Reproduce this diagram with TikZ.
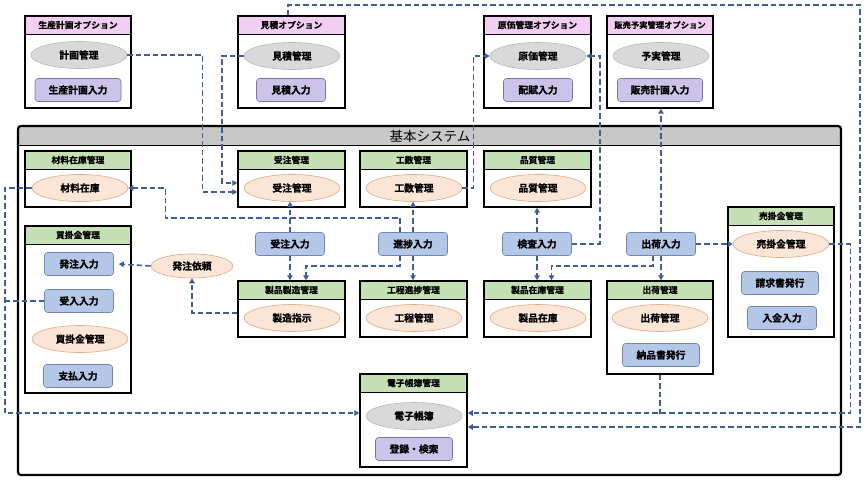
\documentclass[tikz,border=0pt]{standalone}
\usepackage{fontspec}
\setmainfont{Noto Sans CJK JP}[BoldFont={Noto Sans CJK JP Bold}, BoldFeatures={FakeBold=0.8}]
\usetikzlibrary{arrows.meta,fit,calc,shapes.geometric}
\definecolor{pinkH}{RGB}{243,206,243}
\definecolor{greenH}{RGB}{197,224,180}
\definecolor{grayH}{RGB}{200,200,200}
\definecolor{orF}{RGB}{251,229,214}
\definecolor{orB}{RGB}{226,170,130}
\definecolor{gyF}{RGB}{217,217,217}
\definecolor{gyB}{RGB}{185,185,185}
\definecolor{blF}{RGB}{180,199,231}
\definecolor{blB}{RGB}{110,135,180}
\definecolor{puF}{RGB}{204,196,232}
\definecolor{puB}{RGB}{125,115,165}
\definecolor{lnc}{RGB}{62,94,150}
\newcommand\modbox[8]{%
  \fill[#7] (#2,#3) rectangle (#4,{#3+#8});
  \draw[line width=0.7pt] (#2,{#3+#8}) -- (#4,{#3+#8});
  \node[modframe, fit={(#2,#3) (#4,#5)}] (#1) {};
  \node[hdrtext] (#1h) at ({(#2+#4)/2},{#3+#8/2}) {#6};
}
\begin{document}
\begin{tikzpicture}[x=1pt,y=-1pt,
  modframe/.style={draw=black, line width=1.5pt, inner sep=0pt},
  hdrtext/.style={font=\bfseries\fontsize{8.8}{10}\selectfont, inner sep=0pt},
  oel/.style={ellipse, draw=orB, fill=orF, line width=0.6pt, minimum width=96pt, minimum height=27pt, inner sep=0pt, font=\bfseries\fontsize{9.8}{10}\selectfont},
  gel/.style={oel, draw=gyB, fill=gyF},
  brect/.style={rectangle, rounded corners=3pt, draw=blB, fill=blF, line width=0.6pt, minimum width=69pt, minimum height=23pt, inner sep=0pt, font=\bfseries\fontsize{9.8}{10}\selectfont},
  prect/.style={brect, draw=puB, fill=puF},
  dl/.style={draw=lnc, line width=1.6pt, dash pattern=on 5.5pt off 3pt},
  arr/.style={dl, -{Triangle[length=5pt,width=5.5pt]}}
]
\useasboundingbox (0,0) rectangle (867,481);
\fill[white] (0,0) rectangle (867,481);

% option modules
\modbox{ob1}{25}{16}{131}{108}{生産計画オプション}{pinkH}{18}
\node[gel] (keikaku) at (79,55) {計画管理};
\node[prect, minimum width=86pt] (seisankeikaku) at (78,90) {生産計画入力};
\modbox{ob2}{238}{16}{345}{108}{見積オプション}{pinkH}{18}
\node[gel] (mitsumori) at (292,56) {見積管理};
\node[prect] (mitsuin) at (291,90) {見積入力};
\modbox{ob3}{484}{16}{591}{108}{原価管理オプション}{pinkH}{18}
\node[gel] (genka) at (538,56) {原価管理};
\node[prect] (haifu) at (538,90) {配賦入力};
\modbox{ob4}{607}{16}{713}{108}{{\fontsize{8.3}{9}\selectfont 販売予実管理オプション}}{pinkH}{18}
\node[gel] (yojitsu) at (661,56) {予実管理};
\node[prect, minimum width=85pt] (hanbai) at (660,90) {販売計画入力};

% basic system
\begin{scope}
  \clip[rounded corners=3pt] (18,126) rectangle (841,475);
  \fill[grayH] (18,126) rectangle (841,146);
\end{scope}
\draw[line width=1pt] (18,146) -- (841,146);
\node[draw, line width=2.2pt, rounded corners=3pt, inner sep=0pt, fit={(18,126) (841,475)}] (kihon) {};
\node[font=\fontsize{13.5}{14}\selectfont, inner sep=0pt] (kihonT) at (430,136) {基本システム};

\modbox{zaiko}{25}{151}{131}{207}{材料在庫管理}{greenH}{18}
\node[oel] (zaikoE) at (80,188) {材料在庫};
\modbox{kaikake}{25}{226}{131}{393}{買掛金管理}{greenH}{18}
\node[brect] (hacchuin) at (79,264) {発注入力};
\node[brect] (ukeirein) at (79,301) {受入入力};
\node[oel] (kaikakeE) at (80,339) {買掛金管理};
\node[brect] (shiharai) at (78,376) {支払入力};
\modbox{juchu}{238}{151}{345}{207}{受注管理}{greenH}{18}
\node[oel] (juchuE) at (292,188) {受注管理};
\modbox{kosu}{360}{151}{467}{207}{工数管理}{greenH}{18}
\node[oel] (kosuE) at (414,188) {工数管理};
\modbox{hinshitsu}{484}{151}{591}{207}{品質管理}{greenH}{18}
\node[oel] (hinshitsuE) at (538,188) {品質管理};
\modbox{seizo}{238}{281}{345}{337}{製品製造管理}{greenH}{18}
\node[oel] (seizoE) at (292,318) {製造指示};
\modbox{koutei}{360}{281}{467}{337}{工程進捗管理}{greenH}{18}
\node[oel] (kouteiE) at (414,318) {工程管理};
\modbox{seihin}{484}{281}{591}{337}{製品在庫管理}{greenH}{18}
\node[oel] (seihinE) at (538,318) {製品在庫};
\modbox{shukka}{607}{281}{713}{374}{出荷管理}{greenH}{18}
\node[oel] (shukkaE) at (660,318) {出荷管理};
\node[brect, minimum width=77pt] (nouhin) at (661,355) {納品書発行};
\modbox{urikake}{728}{207}{834}{337}{売掛金管理}{greenH}{18}
\node[oel] (urikakeE) at (781,244) {売掛金管理};
\node[brect, minimum width=77pt] (seikyu) at (780,283) {請求書発行};
\node[brect] (nyukin) at (782,318) {入金入力};
\modbox{denshi}{360}{374}{467}{467}{電子帳簿管理}{greenH}{18}
\node[gel] (denshiE) at (414,416) {電子帳簿};
\node[prect, minimum width=77pt] (touroku) at (414,449) {登録・検索};

% free nodes
\node[brect] (juchuin) at (290,244) {受注入力};
\node[brect] (shinchoku) at (413,244) {進捗入力};
\node[brect] (kensa) at (537,244) {検査入力};
\node[brect] (shukkain) at (661,244) {出荷入力};
\node[oel, minimum width=82pt, minimum height=24pt] (hacchuirai) at (192,266) {発注依頼};

% corners
\coordinate (topright) at (860,5);

% connectors
\draw[arr] (keikaku.east) -- ++(75,0) |- ([yshift=-13pt]juchu.west);
\draw[arr] (mitsumori.west) -- ++(-22,0) |- ([yshift=-4pt]juchu.west);
\draw[arr] ([xshift=-3.5pt]ob2.north) |- (topright) |- ([yshift=-6.5pt]denshi.east);
\draw[arr] (urikakeE.east) -- ++(21,0) |- ([yshift=7.5pt]denshi.east);
\draw[dl] (shukka.south) -- ++(0,39);
\draw[arr] (zaikoE.west) -- ++(-27,0) |- ([yshift=7.5pt]denshi.west);
\draw[dl] (ukeirein.west) -- ++(-40,0);
\draw[arr] (kosuE.east) -- ++(11,0) |- (genka.west);
\draw[arr] (kensa.east) -- ++(28,0) |- (genka.east);
\draw[arr] (shukkain.north) -- (shukkain.north |- ob4.south);
\draw[arr] (shukkain.east) -- (urikakeE.west);
\draw[arr] (shukkain.south) -- (shukkain.south |- shukka.north);
\draw[arr] ([xshift=-8pt]shukkain.south) -- ++(0,10) -| ([xshift=14pt]seihin.north);
\draw[arr] (kensa.north) -- (kensa.north |- hinshitsu.south);
\draw[arr] (kensa.south) -- (kensa.south |- seihin.north);
\draw[arr] (juchuin.north) -- (juchuin.north |- juchuE.south);
\draw[arr] (juchuin.south) -- (juchuin.south |- seizo.north);
\draw[arr] (shinchoku.north) -- (shinchoku.north |- kosuE.south);
\draw[arr] (shinchoku.south) -- (shinchoku.south |- koutei.north);
\draw[arr] ([xshift=-13pt]shinchoku.south) -- ++(0,10) -| ([xshift=14.5pt]seizo.north);
\draw[arr] ([xshift=-13pt]shinchoku.north) -- ++(0,-14.5) -| ($(zaikoE.east)+(37,0)$) -- (zaikoE.east);
\draw[arr] (hacchuirai.west) -- ([xshift=5pt]hacchuin.east);
\draw[arr] ([yshift=-4pt]seizo.west) -| (hacchuirai.south);
\end{tikzpicture}
\end{document}
